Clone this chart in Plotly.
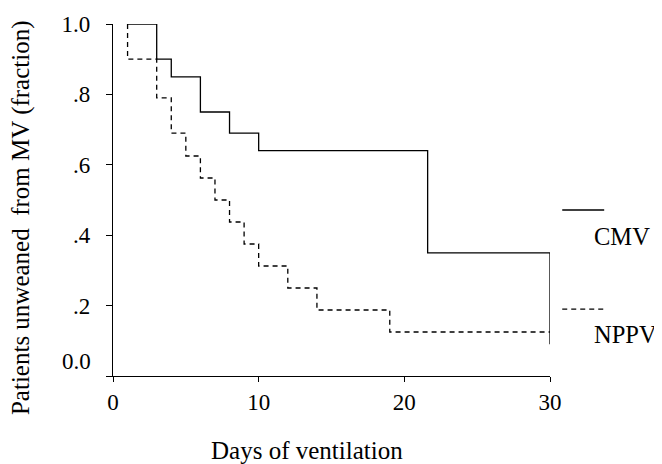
import plotly.graph_objects as go

# Data
cmv_days = [1, 3, 4, 6, 8, 10, 21.6, 30]
cmv_frac = [1.0, 0.9, 0.85, 0.75, 0.69, 0.64, 0.35, 0.09]

nppv_days = [1, 1, 3, 4, 5, 6, 7, 8, 9, 10, 12, 14, 19, 30]
nppv_frac = [1.0, 0.9, 0.79, 0.69, 0.625, 0.5625, 0.5, 0.4375, 0.375, 0.3125, 0.25, 0.1875, 0.125, 0.125]

x_ticks = [0, 10, 20, 30]
y_ticks = [1.0, 0.8, 0.6, 0.4, 0.2, 0.0]
y_tick_text = ["1.0", ".8", ".6", ".4", ".2", ""]
zero_label = "0.0"
x_title = "Days of ventilation"
y_title = "Patients unweaned\u00a0 from MV (fraction)"

FONT = "Liberation Serif, Times New Roman, serif"
tick_font = dict(family=FONT, size=23, color="black")
title_font = dict(family=FONT, size=25, color="black")
legend_font = dict(family=FONT, size=24.5, color="black")

fig = go.Figure()
fig.add_trace(go.Scatter(x=cmv_days, y=cmv_frac, mode="lines", name="CMV",
                         line=dict(color="black", width=1.3, shape="hv"),
                         cliponaxis=False, showlegend=False))
fig.add_trace(go.Scatter(x=nppv_days, y=nppv_frac, mode="lines", name="NPPV",
                         line=dict(color="black", width=1.3, shape="hv", dash="5px,4px"),
                         cliponaxis=False, showlegend=False))

# Custom legend (line above label)
fig.add_shape(type="line", xref="paper", yref="paper", x0=1.028, x1=1.124, y0=0.4716, y1=0.4716,
              line=dict(color="black", width=1.3))
fig.add_shape(type="line", xref="paper", yref="paper", x0=1.028, x1=1.124, y0=0.19, y1=0.19,
              line=dict(color="black", width=1.3, dash="5px,4px"))
fig.add_annotation(text="CMV", xref="paper", yref="paper", x=1.099, y=0.395, xanchor="left",
                   yanchor="middle", showarrow=False, font=legend_font, borderpad=0)
fig.add_annotation(text="NPPV", xref="paper", yref="paper", x=1.099, y=0.119, xanchor="left",
                   yanchor="middle", showarrow=False, font=legend_font, borderpad=0)
# zero label on y axis (drawn slightly above the axis as in the original)
fig.add_annotation(text=zero_label, xref="paper", yref="paper", x=-0.045, y=0.04, xanchor="right",
                   yanchor="middle", showarrow=False, font=tick_font)
# axis titles
fig.add_annotation(text=x_title, xref="paper", yref="paper", x=0.4435, y=-0.2115, xanchor="center",
                   yanchor="middle", showarrow=False, font=title_font, borderpad=0)
fig.add_annotation(text=y_title, xref="paper", yref="paper", x=-0.2103, y=0.449, xanchor="center",
                   yanchor="middle", showarrow=False, textangle=-90, font=title_font)

fig.update_layout(
    width=654, height=456,
    margin=dict(l=105, r=112, t=16, b=88, autoexpand=False),
    paper_bgcolor="white", plot_bgcolor="white",
    font=dict(family=FONT, size=23, color="black"),
    xaxis=dict(range=[0, 30], tickvals=x_ticks, showline=True, linecolor="black", linewidth=1.2,
               ticks="outside", ticklen=5, tickcolor="black", showgrid=False, zeroline=False,
               tickfont=tick_font, automargin=False),
    yaxis=dict(range=[0, 1], tickvals=y_ticks, ticktext=y_tick_text, showline=True, linecolor="black",
               linewidth=1.2, ticks="outside", ticklen=6, tickcolor="black", showgrid=False,
               zeroline=False, ticklabelstandoff=11, tickfont=tick_font, automargin=False),
)

fig.write_html("out.html")
